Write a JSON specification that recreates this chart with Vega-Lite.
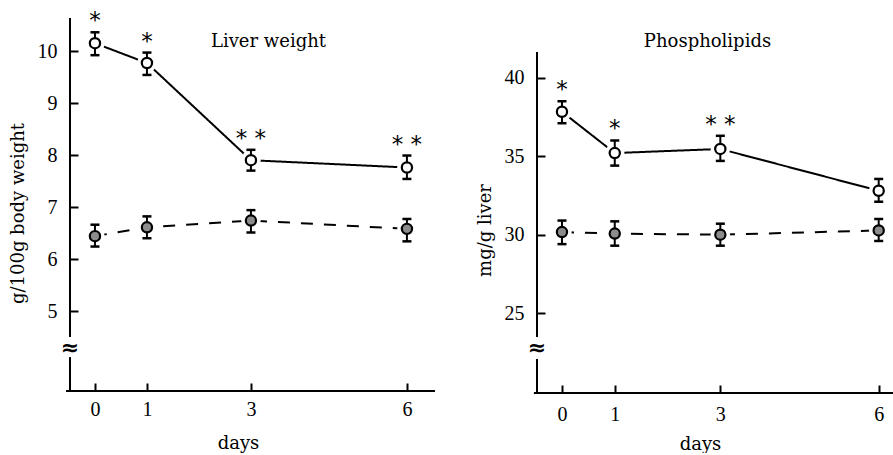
{
  "$schema": "https://vega.github.io/schema/vega-lite/v6.json",
  "padding": {"left": 9, "top": 5, "right": 0, "bottom": 0},
  "spacing": 40,
  "config": {
    "font": "DejaVu Serif",
    "view": {"stroke": null},
    "axis": {
      "grid": false,
      "domain": false,
      "offset": -8,
      "tickColor": "black",
      "tickWidth": 2,
      "tickSize": 8,
      "labelColor": "black",
      "labelFont": "Liberation Serif",
      "labelFontSize": 20,
      "titleColor": "black",
      "titleFont": "DejaVu Serif",
      "titleFontSize": 18,
      "titleFontWeight": "normal"
    },
    "title": {"font": "DejaVu Serif", "fontSize": 18, "fontWeight": "normal", "color": "black"}
  },
  "datasets": {
    "liver": [
      {"group": "A", "day": 0, "mean": 10.15, "lo": 9.92, "hi": 10.36, "sig": "*"},
      {"group": "A", "day": 1, "mean": 9.77, "lo": 9.54, "hi": 9.97, "sig": "*"},
      {"group": "A", "day": 3, "mean": 7.90, "lo": 7.70, "hi": 8.10, "sig": "* *"},
      {"group": "A", "day": 6, "mean": 7.76, "lo": 7.54, "hi": 7.99, "sig": "* *"},
      {"group": "B", "day": 0, "mean": 6.44, "lo": 6.24, "hi": 6.66, "sig": ""},
      {"group": "B", "day": 1, "mean": 6.61, "lo": 6.40, "hi": 6.82, "sig": ""},
      {"group": "B", "day": 3, "mean": 6.74, "lo": 6.51, "hi": 6.94, "sig": ""},
      {"group": "B", "day": 6, "mean": 6.58, "lo": 6.34, "hi": 6.77, "sig": ""}
    ],
    "phospho": [
      {"group": "A", "day": 0, "mean": 37.83, "lo": 37.1, "hi": 38.5, "sig": "*"},
      {"group": "A", "day": 1, "mean": 35.2, "lo": 34.4, "hi": 36.0, "sig": "*"},
      {"group": "A", "day": 3, "mean": 35.46, "lo": 34.7, "hi": 36.3, "sig": "* *"},
      {"group": "A", "day": 6, "mean": 32.8, "lo": 32.1, "hi": 33.55, "sig": ""},
      {"group": "B", "day": 0, "mean": 30.17, "lo": 29.4, "hi": 30.9, "sig": ""},
      {"group": "B", "day": 1, "mean": 30.07, "lo": 29.3, "hi": 30.85, "sig": ""},
      {"group": "B", "day": 3, "mean": 30.0, "lo": 29.3, "hi": 30.7, "sig": ""},
      {"group": "B", "day": 6, "mean": 30.27, "lo": 29.6, "hi": 31.0, "sig": ""}
    ]
  },
  "hconcat": [
    {
      "width": 365,
      "height": 386,
      "title": {"text": "Liver weight", "frame": "group", "anchor": "middle", "offset": -35, "dx": 16, "dy": 20, "baseline": "middle"},
      "data": {"name": "liver"},
      "encoding": {
        "x": {
          "field": "day", "type": "quantitative",
          "scale": {"domain": [-0.48, 6.54], "nice": false, "zero": false},
          "axis": {"values": [0, 1, 3, 6], "title": "days", "labelPadding": 8, "titlePadding": 15, "titleX": 168}
        }
      },
      "layer": [
        {
          "mark": {"type": "rule", "color": "black", "strokeWidth": 2},
          "encoding": {
            "x": {"datum": -0.55, "type": "quantitative"},
            "x2": {"datum": 6.54},
            "y": {"datum": 3.462, "type": "quantitative"}
          }
        },
        {
          "mark": {"type": "rule", "color": "black", "strokeWidth": 2},
          "encoding": {
            "x": {"datum": -0.48, "type": "quantitative"},
            "y": {"datum": 3.462, "type": "quantitative"},
            "y2": {"datum": 4.1}
          }
        },
        {
          "mark": {"type": "rule", "color": "black", "strokeWidth": 2},
          "encoding": {
            "x": {"datum": -0.48, "type": "quantitative"},
            "y": {"datum": 4.5, "type": "quantitative"},
            "y2": {"datum": 10.63}
          }
        },
        {
          "transform": [{"filter": "datum.day == 0 && datum.group == 'A'"}],
          "mark": {"type": "text", "text": "≈", "font": "DejaVu Sans", "fontSize": 22, "fontWeight": "bold", "baseline": "middle", "align": "center", "color": "black"},
          "encoding": {
            "x": {"datum": -0.48, "type": "quantitative"},
            "y": {"datum": 4.29, "type": "quantitative"}
          }
        },
        {
          "mark": {"type": "line", "color": "black", "strokeWidth": 2},
          "encoding": {
            "y": {
              "field": "mean", "type": "quantitative",
              "scale": {"domain": [3.462, 10.885], "nice": false, "zero": false},
              "axis": {"values": [5, 6, 7, 8, 9, 10], "title": "g/100g body weight", "labelPadding": 13, "titlePadding": 10, "titleY": 208}
            },
            "strokeDash": {"field": "group", "type": "nominal", "scale": {"domain": ["A", "B"], "range": [[1, 0], [12, 11]]}, "legend": null}
          }
        },
        {
          "mark": {"type": "point", "filled": true, "color": "white", "size": 380, "opacity": 1},
          "encoding": {"y": {"field": "mean", "type": "quantitative"}}
        },
        {
          "mark": {"type": "rule", "color": "black", "strokeWidth": 2},
          "encoding": {"y": {"field": "lo", "type": "quantitative"}, "y2": {"field": "hi"}}
        },
        {
          "mark": {"type": "tick", "orient": "horizontal", "color": "black", "size": 9, "thickness": 2.5, "opacity": 1},
          "encoding": {"y": {"field": "lo", "type": "quantitative"}}
        },
        {
          "mark": {"type": "tick", "orient": "horizontal", "color": "black", "size": 9, "thickness": 2.5, "opacity": 1},
          "encoding": {"y": {"field": "hi", "type": "quantitative"}}
        },
        {
          "mark": {"type": "point", "filled": true, "stroke": "black", "strokeWidth": 2.2, "size": 105, "opacity": 1},
          "encoding": {
            "y": {"field": "mean", "type": "quantitative"},
            "fill": {"field": "group", "type": "nominal", "scale": {"domain": ["A", "B"], "range": ["white", "#8c8c8c"]}, "legend": null}
          }
        },
        {
          "transform": [{"filter": "datum.sig != ''"}],
          "mark": {"type": "text", "font": "DejaVu Sans", "fontSize": 23, "baseline": "middle", "dy": -11, "color": "black"},
          "encoding": {"y": {"field": "hi", "type": "quantitative"}, "text": {"field": "sig"}}
        }
      ]
    },
    {
      "width": 357,
      "height": 388,
      "title": {"text": "Phospholipids", "frame": "group", "anchor": "middle", "offset": -35, "dx": -8, "dy": 20, "baseline": "middle"},
      "data": {"name": "phospho"},
      "encoding": {
        "x": {
          "field": "day", "type": "quantitative",
          "scale": {"domain": [-0.473, 6.29], "nice": false, "zero": false},
          "axis": {"values": [0, 1, 3, 6], "title": "days", "labelPadding": 11, "titlePadding": 11, "titleX": 163}
        }
      },
      "layer": [
        {
          "mark": {"type": "rule", "color": "black", "strokeWidth": 2},
          "encoding": {
            "x": {"datum": -0.53, "type": "quantitative"},
            "x2": {"datum": 6.29},
            "y": {"datum": 19.917, "type": "quantitative"}
          }
        },
        {
          "mark": {"type": "rule", "color": "black", "strokeWidth": 2},
          "encoding": {
            "x": {"datum": -0.473, "type": "quantitative"},
            "y": {"datum": 19.917, "type": "quantitative"},
            "y2": {"datum": 22.05}
          }
        },
        {
          "mark": {"type": "rule", "color": "black", "strokeWidth": 2},
          "encoding": {
            "x": {"datum": -0.473, "type": "quantitative"},
            "y": {"datum": 23.5, "type": "quantitative"},
            "y2": {"datum": 41.6}
          }
        },
        {
          "transform": [{"filter": "datum.day == 0 && datum.group == 'A'"}],
          "mark": {"type": "text", "text": "≈", "font": "DejaVu Sans", "fontSize": 22, "fontWeight": "bold", "baseline": "middle", "align": "center", "color": "black"},
          "encoding": {
            "x": {"datum": -0.473, "type": "quantitative"},
            "y": {"datum": 22.79, "type": "quantitative"}
          }
        },
        {
          "mark": {"type": "line", "color": "black", "strokeWidth": 2},
          "encoding": {
            "y": {
              "field": "mean", "type": "quantitative",
              "scale": {"domain": [19.917, 44.63], "nice": false, "zero": false},
              "axis": {"values": [25, 30, 35, 40], "title": "mg/g liver", "labelPadding": 13, "titlePadding": 10, "titleY": 225}
            },
            "strokeDash": {"field": "group", "type": "nominal", "scale": {"domain": ["A", "B"], "range": [[1, 0], [12, 11]]}, "legend": null}
          }
        },
        {
          "mark": {"type": "point", "filled": true, "color": "white", "size": 380, "opacity": 1},
          "encoding": {"y": {"field": "mean", "type": "quantitative"}}
        },
        {
          "mark": {"type": "rule", "color": "black", "strokeWidth": 2},
          "encoding": {"y": {"field": "lo", "type": "quantitative"}, "y2": {"field": "hi"}}
        },
        {
          "mark": {"type": "tick", "orient": "horizontal", "color": "black", "size": 9, "thickness": 2.5, "opacity": 1},
          "encoding": {"y": {"field": "lo", "type": "quantitative"}}
        },
        {
          "mark": {"type": "tick", "orient": "horizontal", "color": "black", "size": 9, "thickness": 2.5, "opacity": 1},
          "encoding": {"y": {"field": "hi", "type": "quantitative"}}
        },
        {
          "mark": {"type": "point", "filled": true, "stroke": "black", "strokeWidth": 2.2, "size": 105, "opacity": 1},
          "encoding": {
            "y": {"field": "mean", "type": "quantitative"},
            "fill": {"field": "group", "type": "nominal", "scale": {"domain": ["A", "B"], "range": ["white", "#8c8c8c"]}, "legend": null}
          }
        },
        {
          "transform": [{"filter": "datum.sig != ''"}],
          "mark": {"type": "text", "font": "DejaVu Sans", "fontSize": 23, "baseline": "middle", "dy": -11, "color": "black"},
          "encoding": {"y": {"field": "hi", "type": "quantitative"}, "text": {"field": "sig"}}
        }
      ]
    }
  ]
}
